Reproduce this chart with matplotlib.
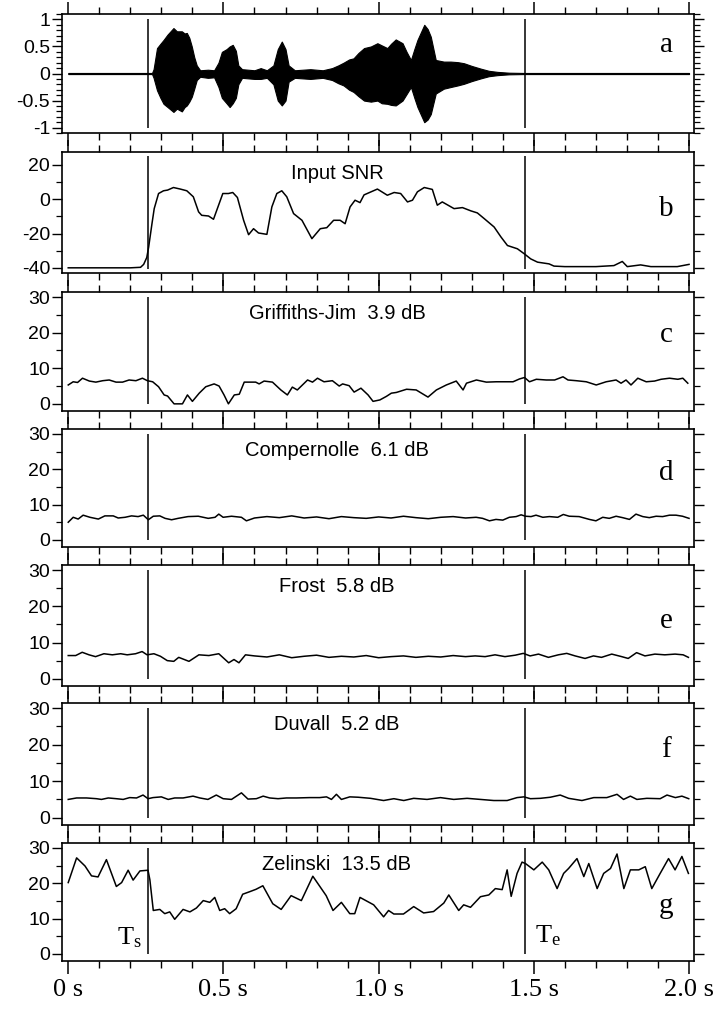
import numpy as np
import matplotlib.pyplot as plt
from matplotlib.ticker import MultipleLocator, FuncFormatter

plt.rcParams["font.family"] = "Liberation Sans"
plt.rcParams["axes.unicode_minus"] = False
plt.rcParams["mathtext.fontset"] = "custom"
plt.rcParams["mathtext.rm"] = "Liberation Serif"
plt.rcParams["mathtext.it"] = "Liberation Serif:italic"

# speech start / end markers (s)
t_start = 0.257
t_end = 1.47

# panel a: envelope of the speech waveform
wave_t = [0.0, 0.27, 0.275, 0.286, 0.297, 0.307, 0.32, 0.339, 0.35, 0.366, 0.375, 0.382,
          0.39, 0.398, 0.406, 0.414, 0.425, 0.45, 0.47, 0.484, 0.495, 0.51, 0.52, 0.53,
          0.54, 0.548, 0.56, 0.6, 0.62, 0.64, 0.661, 0.675, 0.688, 0.70, 0.71, 0.73,
          0.78, 0.82, 0.85, 0.87, 0.887, 0.905, 0.919, 0.935, 0.953, 0.975, 0.996, 1.01,
          1.028, 1.04, 1.055, 1.077, 1.09, 1.104, 1.115, 1.125, 1.147, 1.158, 1.168, 1.184,
          1.21, 1.232, 1.255, 1.275, 1.3, 1.329, 1.355, 1.383, 1.42, 1.47, 2.0]
wave_hi = [0.01, 0.01, 0.08, 0.47, 0.55, 0.62, 0.72, 0.84, 0.78, 0.78, 0.74, 0.75,
           0.66, 0.5, 0.3, 0.15, 0.06, 0.07, 0.06, 0.2, 0.4, 0.45, 0.5, 0.53,
           0.42, 0.15, 0.08, 0.06, 0.1, 0.06, 0.15, 0.45, 0.59, 0.45, 0.15, 0.06,
           0.08, 0.06, 0.1, 0.15, 0.2, 0.26, 0.28, 0.38, 0.47, 0.5, 0.56, 0.52,
           0.47, 0.55, 0.63, 0.56, 0.4, 0.25, 0.45, 0.62, 0.9, 0.82, 0.68, 0.25,
           0.22, 0.22, 0.21, 0.19, 0.14, 0.09, 0.05, 0.03, 0.015, 0.01, 0.01]
wave_lo = [-0.01, -0.01, -0.08, -0.31, -0.45, -0.56, -0.62, -0.71, -0.65, -0.70, -0.62, -0.59,
           -0.52, -0.43, -0.28, -0.12, -0.06, -0.08, -0.07, -0.25, -0.45, -0.55, -0.62, -0.55,
           -0.45, -0.2, -0.08, -0.1, -0.1, -0.08, -0.2, -0.5, -0.59, -0.5, -0.15, -0.08,
           -0.1, -0.08, -0.12, -0.18, -0.22, -0.3, -0.34, -0.42, -0.5, -0.52, -0.5, -0.55,
           -0.56, -0.58, -0.59, -0.5, -0.38, -0.25, -0.45, -0.62, -0.9, -0.85, -0.75, -0.37,
           -0.28, -0.25, -0.22, -0.19, -0.14, -0.09, -0.05, -0.03, -0.015, -0.01, -0.01]

# panel b: input SNR (dB)
snr_t = [0.0, 0.1, 0.2, 0.233, 0.243, 0.253, 0.259, 0.27, 0.277, 0.291, 0.307, 0.32, 0.339,
         0.361, 0.382, 0.403, 0.42, 0.43, 0.452, 0.468, 0.498, 0.516, 0.53, 0.545, 0.565,
         0.581, 0.597, 0.613, 0.64, 0.656, 0.672, 0.688, 0.704, 0.726, 0.753, 0.785, 0.812,
         0.833, 0.855, 0.876, 0.892, 0.908, 0.924, 0.94, 0.953, 0.996, 1.028, 1.05, 1.071,
         1.093, 1.109, 1.125, 1.147, 1.173, 1.189, 1.205, 1.243, 1.27, 1.297, 1.318, 1.34,
         1.372, 1.394, 1.415, 1.447, 1.469, 1.49, 1.512, 1.549, 1.565, 1.6, 1.7, 1.758,
         1.785, 1.801, 1.844, 1.877, 1.962, 2.0]
snr_db = [-40, -40, -40, -39.7, -38, -34, -28, -14, -5.5, 3.3, 4.9, 5.3, 6.8,
          5.9, 4.9, 1.4, -7.4, -9.4, -9.8, -11.7, 3.3, 3.3, 3.9, 1.0, -12.3,
          -20.7, -17.2, -19.7, -20.5, -4.5, 3.3, 4.9, 1.4, -8.4, -12.3, -23, -17.2,
          -16.6, -12.3, -12.3, -14.3, -4.5, -0.6, -2, 2.5, 5.9, 2.3, 3.9, 3.3,
          -1.6, -0.6, 4.3, 6.8, 5.7, -3.5, -1.6, -5.5, -4.9, -6.8, -8, -11.3,
          -16.2, -22, -27, -28.9, -31.8, -34.8, -36.7, -37.7, -39, -39.3, -39.3, -38.7,
          -36.3, -39.3, -38.3, -39.3, -39.3, -38]

# panel c: Griffiths-Jim output SNR (dB)
gj_t = [0.0, 0.016, 0.030, 0.046, 0.068, 0.089, 0.111, 0.132, 0.154, 0.175, 0.196, 0.218,
        0.239, 0.255, 0.272, 0.291, 0.309, 0.32, 0.341, 0.368, 0.384, 0.4, 0.422, 0.443,
        0.47, 0.486, 0.502, 0.516, 0.535, 0.551, 0.567, 0.604, 0.615, 0.631, 0.658, 0.685,
        0.706, 0.722, 0.738, 0.771, 0.787, 0.803, 0.824, 0.851, 0.873, 0.884, 0.905, 0.921,
        0.943, 0.966, 0.982, 1.004, 1.025, 1.041, 1.057, 1.09, 1.121, 1.159, 1.186, 1.218,
        1.25, 1.272, 1.283, 1.315, 1.347, 1.379, 1.411, 1.433, 1.454, 1.47, 1.486, 1.508,
        1.54, 1.567, 1.594, 1.61, 1.637, 1.669, 1.701, 1.733, 1.765, 1.781, 1.797, 1.813,
        1.835, 1.862, 1.889, 1.91, 1.937, 1.964, 1.98, 1.996]
gj_db = [5.3, 6.2, 6.0, 7.2, 6.4, 6.1, 6.5, 6.7, 6.1, 6.1, 6.7, 6.5,
         7.2, 6.5, 6.2, 4.8, 2.5, 2.2, 0.0, 0.0, 2.5, 0.7, 3.0, 4.8,
         5.6, 5.0, 2.5, 0.0, 2.5, 2.7, 6.1, 6.1, 5.6, 6.4, 6.1, 3.9,
         2.5, 4.7, 3.9, 6.7, 6.1, 7.2, 6.2, 6.5, 5.0, 5.6, 5.1, 3.3,
         4.4, 2.5, 0.7, 1.1, 2.1, 3.0, 3.2, 4.1, 3.9, 1.9, 3.9, 5.3,
         6.4, 3.9, 5.8, 6.7, 6.1, 6.2, 6.2, 6.2, 7.0, 7.4, 6.2, 6.9,
         6.7, 6.7, 7.6, 6.7, 6.5, 6.2, 5.3, 6.2, 6.7, 5.8, 6.7, 5.3,
         7.2, 6.2, 6.4, 6.9, 7.2, 6.9, 7.2, 5.8]

# panel d: Compernolle (dB)
comp_t = [0.0, 0.016, 0.032, 0.048, 0.07, 0.097, 0.118, 0.145, 0.161, 0.183, 0.204, 0.225,
          0.242, 0.258, 0.274, 0.295, 0.312, 0.333, 0.354, 0.386, 0.419, 0.451, 0.473, 0.485,
          0.499, 0.526, 0.558, 0.574, 0.6, 0.64, 0.68, 0.72, 0.76, 0.8, 0.84, 0.88,
          0.92, 0.96, 1.0, 1.04, 1.08, 1.12, 1.16, 1.2, 1.24, 1.28, 1.314, 1.335,
          1.357, 1.378, 1.4, 1.421, 1.443, 1.459, 1.473, 1.491, 1.507, 1.529, 1.55, 1.577,
          1.595, 1.614, 1.646, 1.679, 1.7, 1.722, 1.743, 1.765, 1.786, 1.808, 1.829, 1.851,
          1.872, 1.894, 1.915, 1.937, 1.958, 1.979, 2.0]
comp_db = [5.0, 6.4, 5.9, 7.0, 6.4, 5.9, 6.8, 6.8, 6.2, 6.4, 6.8, 6.6,
           7.0, 5.7, 6.7, 6.8, 6.1, 5.7, 6.1, 6.6, 6.7, 6.1, 6.4, 7.3,
           6.4, 6.7, 6.4, 5.4, 6.2, 6.6, 6.3, 6.8, 6.2, 6.5, 6.0, 6.6,
           6.3, 6.1, 6.5, 6.2, 6.7, 6.3, 6.0, 6.4, 6.6, 6.2, 6.4, 6.1,
           5.4, 5.8, 5.6, 6.4, 6.6, 7.1, 6.7, 6.6, 7.0, 6.4, 6.6, 6.4,
           7.2, 6.7, 6.6, 5.8, 5.4, 6.4, 6.1, 6.7, 6.3, 5.8, 7.3, 6.6,
           6.3, 6.7, 6.6, 7.0, 7.0, 6.7, 6.1]

# panel e: Frost (dB)
frost_t = [0.0, 0.024, 0.045, 0.067, 0.088, 0.115, 0.142, 0.169, 0.19, 0.217, 0.238, 0.254,
           0.276, 0.297, 0.319, 0.34, 0.356, 0.389, 0.421, 0.453, 0.485, 0.517, 0.534, 0.55,
           0.571, 0.6, 0.64, 0.68, 0.72, 0.76, 0.8, 0.84, 0.88, 0.92, 0.96, 1.0,
           1.04, 1.08, 1.12, 1.16, 1.2, 1.24, 1.28, 1.311, 1.343, 1.375, 1.407, 1.44,
           1.466, 1.488, 1.515, 1.547, 1.579, 1.606, 1.633, 1.665, 1.692, 1.718, 1.751, 1.783,
           1.804, 1.831, 1.858, 1.89, 1.922, 1.955, 1.981, 1.998]
frost_db = [6.4, 6.4, 7.3, 6.6, 6.1, 6.9, 6.6, 6.9, 6.6, 6.9, 7.5, 6.6,
            6.9, 6.2, 5.0, 4.8, 5.9, 4.8, 6.6, 6.4, 6.9, 4.4, 5.3, 4.4,
            6.6, 6.3, 6.0, 6.6, 5.8, 6.2, 6.5, 5.9, 6.2, 6.0, 6.4, 5.8,
            6.1, 6.3, 5.9, 6.2, 6.0, 6.4, 6.1, 6.3, 6.1, 6.6, 6.1, 6.5,
            7.0, 6.3, 6.8, 5.9, 6.6, 7.0, 6.3, 5.6, 6.3, 5.9, 6.8, 6.1,
            5.6, 7.2, 6.3, 6.8, 6.6, 6.8, 6.6, 5.9]

# panel f: Duvall (dB)
duvall_t = [0.0, 0.027, 0.059, 0.091, 0.107, 0.129, 0.155, 0.177, 0.198, 0.22, 0.241, 0.257,
            0.273, 0.3, 0.322, 0.343, 0.37, 0.402, 0.424, 0.45, 0.477, 0.499, 0.526, 0.558,
            0.579, 0.606, 0.628, 0.649, 0.676, 0.703, 0.735, 0.778, 0.81, 0.832, 0.848, 0.864,
            0.88, 0.907, 0.934, 0.974, 1.016, 1.049, 1.081, 1.113, 1.156, 1.199, 1.242, 1.285,
            1.328, 1.371, 1.414, 1.446, 1.468, 1.489, 1.521, 1.553, 1.585, 1.612, 1.655, 1.693,
            1.735, 1.768, 1.789, 1.811, 1.832, 1.864, 1.907, 1.929, 1.956, 1.977, 1.999]
duvall_db = [5.0, 5.4, 5.4, 5.2, 5.0, 5.4, 5.2, 5.0, 5.5, 5.4, 6.2, 5.2,
             5.5, 5.7, 5.0, 5.4, 5.4, 5.9, 5.4, 5.0, 6.2, 5.2, 5.0, 6.8,
             5.1, 5.2, 5.9, 5.4, 5.2, 5.4, 5.4, 5.5, 5.5, 5.7, 5.0, 6.4,
             5.0, 5.7, 5.6, 5.3, 4.7, 5.2, 4.7, 5.3, 5.0, 5.5, 5.0, 5.3,
             5.0, 4.7, 4.7, 5.5, 5.7, 5.2, 5.3, 5.6, 6.2, 5.3, 4.7, 5.5,
             5.5, 6.4, 5.0, 5.9, 5.0, 5.3, 5.2, 6.2, 5.5, 5.9, 5.2]

# panel g: Zelinski (dB)
zel_t = [0.0, 0.027, 0.054, 0.075, 0.096, 0.123, 0.155, 0.172, 0.193, 0.209, 0.231, 0.257,
         0.263, 0.274, 0.295, 0.311, 0.327, 0.343, 0.37, 0.392, 0.413, 0.435, 0.456, 0.472,
         0.488, 0.504, 0.52, 0.541, 0.562, 0.584, 0.605, 0.627, 0.659, 0.686, 0.718, 0.751,
         0.788, 0.831, 0.853, 0.88, 0.907, 0.923, 0.94, 0.984, 1.016, 1.032, 1.049, 1.08,
         1.113, 1.145, 1.177, 1.21, 1.226, 1.258, 1.274, 1.296, 1.328, 1.355, 1.376, 1.398,
         1.414, 1.427, 1.446, 1.462, 1.473, 1.5, 1.527, 1.548, 1.575, 1.596, 1.612, 1.639,
         1.661, 1.677, 1.704, 1.725, 1.747, 1.768, 1.79, 1.811, 1.838, 1.859, 1.88, 1.907,
         1.934, 1.955, 1.977, 1.998]
zel_db = [20.2, 27.2, 24.9, 22.1, 21.8, 26.7, 19.1, 20.2, 23.7, 20.9, 23.5, 23.7,
          21.0, 12.3, 12.6, 11.4, 11.9, 9.8, 12.6, 11.9, 13.0, 15.1, 14.6, 16.0,
          12.3, 12.8, 11.4, 12.8, 16.9, 17.6, 18.3, 19.3, 14.2, 12.6, 16.5, 15.1,
          22.0, 16.5, 12.3, 14.6, 11.4, 11.4, 16.0, 13.9, 10.5, 12.3, 11.3, 11.3,
          13.4, 11.6, 12.0, 14.4, 16.7, 12.3, 13.9, 13.2, 16.2, 16.7, 18.5, 18.2,
          23.8, 16.3, 22.8, 26.0, 25.6, 23.8, 26.0, 23.8, 18.5, 22.8, 24.2, 27.0,
          21.9, 25.6, 18.5, 22.8, 24.2, 28.3, 18.5, 23.8, 23.8, 24.7, 18.5, 22.8,
          27.0, 23.8, 27.6, 22.8]

panel_letters = ["a", "b", "c", "d", "e", "f", "g"]
panel_titles = ["", "Input SNR", "Griffiths-Jim  3.9 dB", "Compernolle  6.1 dB",
                "Frost  5.8 dB", "Duvall  5.2 dB", "Zelinski  13.5 dB"]
x_ticks = [0, 0.5, 1.0, 1.5, 2.0]
x_labels = ["0 s", "0.5 s", "1.0 s", "1.5 s", "2.0 s"]

# layout of the stacked panels (figure fractions)
bottoms = [0.8688, 0.7308, 0.5947, 0.4606, 0.3235, 0.1864, 0.0523]
heights = [0.1174, 0.1193, 0.1173, 0.1163, 0.1193, 0.1203, 0.1163]
letter_y = [0.683, 0.471, 0.582, 0.568, 0.477, 0.56, 0.41]

fig = plt.figure(figsize=(7.28, 10.14), dpi=100)
axes = [fig.add_axes([0.0852, b, 0.8681, h]) for b, h in zip(bottoms, heights)]

line_kw = dict(color="black", lw=1.1)

# a: waveform
ax = axes[0]
ax.fill_between(wave_t, wave_lo, wave_hi, color="black", lw=0.8)
ax.vlines([t_start, t_end], -1, 1, color="black", lw=1.1)
ax.set_ylim(-1.1, 1.1)
ax.set_yticks([-1, -0.5, 0, 0.5, 1])
ax.yaxis.set_minor_locator(MultipleLocator(0.1))

# b: input SNR
ax = axes[1]
ax.plot(snr_t, snr_db, **line_kw)
ax.vlines([t_start, t_end], -40.5, 25, color="black", lw=1.1)
ax.set_ylim(-43, 27.5)
ax.set_yticks([-40, -20, 0, 20])
ax.yaxis.set_minor_locator(MultipleLocator(10))

# c-g: beamformer outputs
series = [(gj_t, gj_db), (comp_t, comp_db), (frost_t, frost_db),
          (duvall_t, duvall_db), (zel_t, zel_db)]
for ax, (t, v) in zip(axes[2:], series):
    ax.plot(t, v, **line_kw)
    ax.vlines([t_start, t_end], 0, 30, color="black", lw=1.1)
    ax.set_ylim(-2, 31.4)
    ax.set_yticks([0, 10, 20, 30])
    ax.yaxis.set_minor_locator(MultipleLocator(5))

for i, ax in enumerate(axes):
    ax.set_xlim(-0.02, 2.016)
    ax.xaxis.set_major_locator(MultipleLocator(0.5))
    ax.xaxis.set_minor_locator(MultipleLocator(0.1))
    ax.yaxis.set_major_formatter(FuncFormatter(lambda v, p: f"{v:g}"))
    ax.tick_params(axis="x", which="major", direction="out", length=9, width=1.1,
                   top=True, bottom=True, labelbottom=False)
    ax.tick_params(axis="x", which="minor", direction="out", length=5, width=1.0,
                   top=True, bottom=True)
    ax.tick_params(axis="y", which="major", direction="out", length=7, width=1.0,
                   left=True, right=True, labelsize=14, pad=1.5)
    ax.tick_params(axis="y", which="minor", direction="out", length=4, width=0.9,
                   left=True, right=True)
    for s in ax.spines.values():
        s.set_linewidth(1.2)
    ax.text(0.956, letter_y[i], panel_letters[i], transform=ax.transAxes,
            ha="center", va="baseline", fontsize=21, family="Liberation Serif")
    if panel_titles[i]:
        ax.text(0.435, 0.775, panel_titles[i], transform=ax.transAxes,
                ha="center", va="baseline", fontsize=14.5)

# bottom axis labels and speech markers
ax = axes[-1]
ax.set_xticks(x_ticks)
ax.set_xticklabels(x_labels, family="Liberation Serif", fontsize=19)
ax.tick_params(axis="x", which="major", labelbottom=True, pad=4)
ax.text(t_start - 0.02, 2.6, r"$\mathrm{T_s}$", ha="right", va="baseline", fontsize=19)
ax.text(t_end + 0.035, 3.2, r"$\mathrm{T_e}$", ha="left", va="baseline", fontsize=19)

fig.savefig("out.png", dpi=100)
